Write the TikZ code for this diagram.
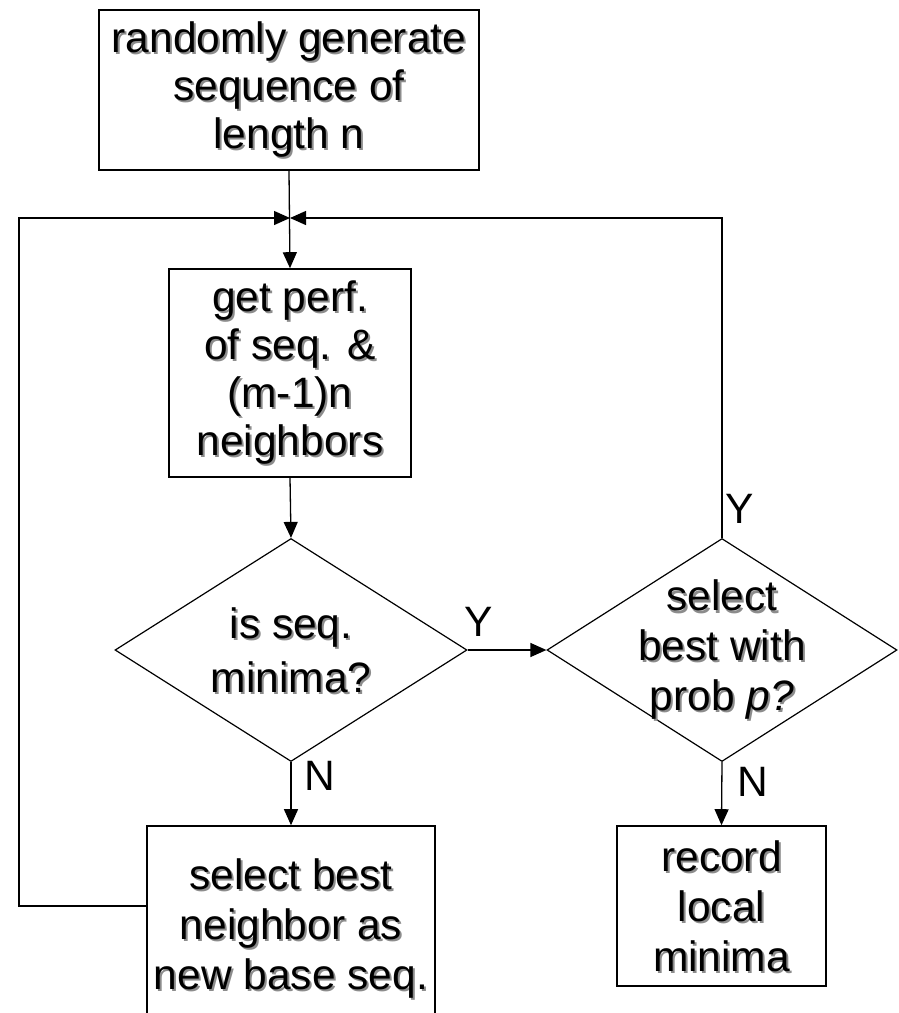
\documentclass[tikz,border=0pt]{standalone}
\usepackage{fontspec}
\setmainfont{Liberation Sans}
\usetikzlibrary{shapes.geometric,arrows.meta}
% Text with a soft grey drop shadow: #1 name, #2 centre, #3 line spacing, #4 text
\newcommand\shadedlabel[4]{%
  \node[labeltext,text=black!45,font=\fontsize{42.5}{#3}\selectfont]
    at ([shift={(2pt,-2pt)}]#2) {#4};
  \node[labeltext,font=\fontsize{42.5}{#3}\selectfont] (#1) at (#2) {#4};}
\begin{document}
\begin{tikzpicture}[x=1pt,y=-1pt,
  box/.style={draw,line width=1.6pt,inner sep=0pt},
  dia/.style={draw,diamond,line width=1.2pt,inner sep=0pt},
  arr/.style={line width=1.3pt,-{Triangle[length=16pt,width=14pt]}},
  labeltext/.style={align=center,inner sep=0pt},
  yn/.style={inner sep=0pt,font=\fontsize{42.5}{48}\selectfont}]
\useasboundingbox (0,0) rectangle (898,1013);

% process boxes and decisions
\node[box,minimum width=380pt,minimum height=160pt] (gen)  at (289,90)  {};
\node[box,minimum width=242pt,minimum height=208pt] (perf) at (290,373) {};
\node[dia,minimum width=352pt,minimum height=223pt] (isMin) at (291,650) {};
\node[dia,minimum width=350pt,minimum height=223pt] (prob)  at (722,650) {};
\node[box,minimum width=288pt,minimum height=204pt] (best) at (291,928) {};
\node[box,minimum width=209pt,minimum height=160pt] (rec)  at (721.5,906) {};

% texts
\shadedlabel{genT}{gen}{48}{randomly generate\\sequence of\\length n}
\shadedlabel{perfT}{perf}{48}{get perf.\\of seq. \&\\(m-1)n\\neighbors}
\shadedlabel{isMinT}{isMin}{54}{is seq.\\minima?}
\shadedlabel{probT}{prob}{50}{select\\best with\\prob \textit{p?}}
\shadedlabel{bestT}{best}{50}{select best\\neighbor as\\new base seq.}
\shadedlabel{recT}{rec}{50}{record\\local\\minima}

% merge point above the evaluation box
\coordinate (join) at (290,218);
\coordinate (loopL) at (19,218);

% connectors
\draw[arr] (gen.south) -- (perf.north);
\draw[arr] (perf.south) -- (isMin.north);
\draw[arr] (isMin.east) -- (prob.west);
\draw[arr] (isMin.south) -- (best.north);
\draw[arr] (prob.south) -- (rec.north);
\draw[arr] ([yshift=22pt]best.west) -| (loopL) -- (join);
\draw[arr] (prob.north) |- (join);

% branch labels
\node[yn] (yes1) at (479,622) {Y};
\node[yn] (yes2) at (740,509) {Y};
\node[yn] (no1)  at (320,776) {N};
\node[yn] (no2)  at (753,782) {N};
\end{tikzpicture}
\end{document}
